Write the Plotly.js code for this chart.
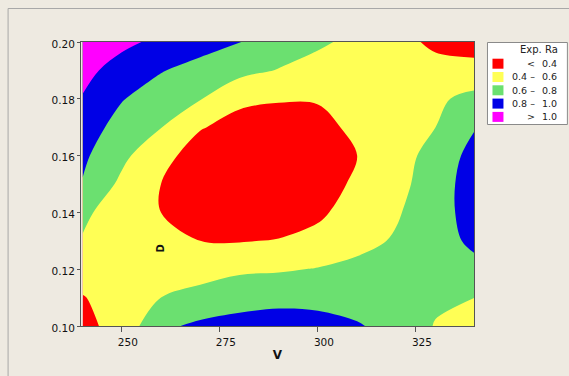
<!DOCTYPE html>
<html>
<head>
<meta charset="utf-8">
<script src="https://cdn.plot.ly/plotly-3.0.1.min.js"></script>
<style>
html,body{margin:0;padding:0;background:#EEEAE1;}
#chart{width:569px;height:376px;}
</style>
</head>
<body>
<div id="chart"></div>
<script>
// Process variables
var V = [240, 250, 260, 270, 280, 290, 300, 310, 320, 330, 340];
var D = [0.10, 0.11, 0.12, 0.13, 0.14, 0.15, 0.16, 0.17, 0.18, 0.19, 0.20];
// Expected Ra (rows follow D, columns follow V)
var Ra = [
  [0.35, 0.47, 0.76, 0.84, 0.87, 0.88, 0.87, 0.82, 0.72, 0.59, 0.52],
  [0.39, 0.49, 0.60, 0.65, 0.72, 0.75, 0.74, 0.70, 0.67, 0.63, 0.60],
  [0.49, 0.50, 0.50, 0.54, 0.57, 0.58, 0.61, 0.65, 0.68, 0.72, 0.75],
  [0.59, 0.53, 0.44, 0.40, 0.39, 0.41, 0.45, 0.54, 0.62, 0.72, 0.84],
  [0.63, 0.52, 0.40, 0.32, 0.28, 0.29, 0.37, 0.475, 0.58, 0.72, 0.88],
  [0.79, 0.557, 0.40, 0.31, 0.26, 0.26, 0.32, 0.43, 0.54, 0.70, 0.90],
  [0.835, 0.647, 0.45, 0.33, 0.28, 0.27, 0.29, 0.40, 0.52, 0.67, 0.87],
  [0.89, 0.733, 0.605, 0.41, 0.35, 0.34, 0.36, 0.43, 0.52, 0.60, 0.79],
  [0.99, 0.81, 0.71, 0.61, 0.43, 0.41, 0.41, 0.44, 0.50, 0.57, 0.65],
  [1.05, 0.93, 0.81, 0.733, 0.661, 0.59, 0.52, 0.47, 0.47, 0.46, 0.48],
  [1.12, 1.04, 0.96, 0.877, 0.804, 0.718, 0.634, 0.547, 0.457, 0.365, 0.30]
];
var levels = [0.4, 0.6, 0.8, 1.0];
var bandColors = ['#FF0000', '#FFFF55', '#6BE070', '#0000E6', '#FF00FF'];
var legendLeft = ['<', '0.4 \u2013', '0.6 \u2013', '0.8 \u2013', '>'];
var legendRight = ['0.4', '0.6', '0.8', '1.0', '1.0'];
var legendTitle = 'Exp. Ra';
var xTicks = [250, 275, 300, 325];
var yTicks = [0.10, 0.12, 0.14, 0.16, 0.18, 0.20];

var L = 80.5, T = 42, W = 393.5, H = 284;
function px(x) { return (x - L) / W; }
function py(y) { return (T + H - y) / H; }

var cs = bandColors.map(function (c, i) { return [i / (bandColors.length - 1), c]; });

var trace = {
  type: 'contour',
  x: V, y: D, z: Ra,
  colorscale: cs,
  showscale: false,
  autocontour: false,
  contours: {start: levels[0], end: levels[levels.length - 1], size: levels[1] - levels[0], coloring: 'fill'},
  line: {width: 0, smoothing: 1.0},
  hoverinfo: 'skip'
};

var shapes = [
  {type: 'rect', xref: 'paper', yref: 'paper', x0: px(7.5), x1: px(600), y0: py(8.5), y1: py(400),
   line: {color: '#A8A8A8', width: 1}, fillcolor: 'rgba(0,0,0,0)', layer: 'below'},
  {type: 'rect', xref: 'paper', yref: 'paper', x0: px(487.5), x1: px(567.5), y0: py(42.5), y1: py(124.5),
   line: {color: '#8A8A8A', width: 1}, fillcolor: '#FFFFFF'}
];
var annotations = [
  {xref: 'paper', yref: 'paper', x: px(539), y: py(50), text: legendTitle, showarrow: false,
   font: {family: 'DejaVu Sans', size: 10, color: '#222'}, xanchor: 'center', yanchor: 'middle'},
  {xref: 'paper', yref: 'paper', x: px(161), y: py(248), text: '<b>D</b>', showarrow: false, textangle: -90,
   font: {family: 'DejaVu Sans', size: 10, color: '#111'}, xanchor: 'center', yanchor: 'middle'}
];
for (var i = 0; i < bandColors.length; i++) {
  var cy = 63.7 + 13.3 * i;
  shapes.push({type: 'rect', xref: 'paper', yref: 'paper', x0: px(492.5), x1: px(503.5), y0: py(cy - 5), y1: py(cy + 5),
               line: {width: 0}, fillcolor: bandColors[i]});
  annotations.push({xref: 'paper', yref: 'paper', x: px(537), y: py(cy), text: legendLeft[i], showarrow: false,
                    font: {family: 'DejaVu Sans', size: 9.5, color: '#222'}, xanchor: 'right', yanchor: 'middle'});
  annotations.push({xref: 'paper', yref: 'paper', x: px(559), y: py(cy), text: legendRight[i], showarrow: false,
                    font: {family: 'DejaVu Sans', size: 9.5, color: '#222'}, xanchor: 'right', yanchor: 'middle'});
}

var layout = {
  width: 569, height: 376,
  margin: {l: 80.5, r: 95, t: 42, b: 50, pad: 0},
  paper_bgcolor: '#EEEAE1',
  plot_bgcolor: '#EEEAE1',
  showlegend: false,
  font: {family: 'DejaVu Sans', size: 10.5, color: '#111'},
  xaxis: {
    range: [239.6, 339.8], tickvals: xTicks, ticks: 'outside', ticklen: 5, tickcolor: '#555',
    showgrid: false, zeroline: false, showline: true, mirror: true, linecolor: '#555', linewidth: 1,
    ticklabelshift: 6, ticklabelstandoff: 1,
    title: {text: '<b>V</b>', font: {family: 'DejaVu Sans', size: 12, color: '#111'}, standoff: 4}
  },
  yaxis: {
    range: [0.10, 0.20], tickvals: yTicks, tickformat: '.2f', ticks: 'outside', ticklen: 3, tickcolor: '#555',
    showgrid: false, zeroline: false, showline: true, mirror: true, linecolor: '#555', linewidth: 1,
    ticklabelshift: 2, ticklabelstandoff: 0
  },
  shapes: shapes,
  annotations: annotations
};

Plotly.newPlot('chart', [trace], layout, {displayModeBar: false, staticPlot: true});
</script>
</body>
</html>
